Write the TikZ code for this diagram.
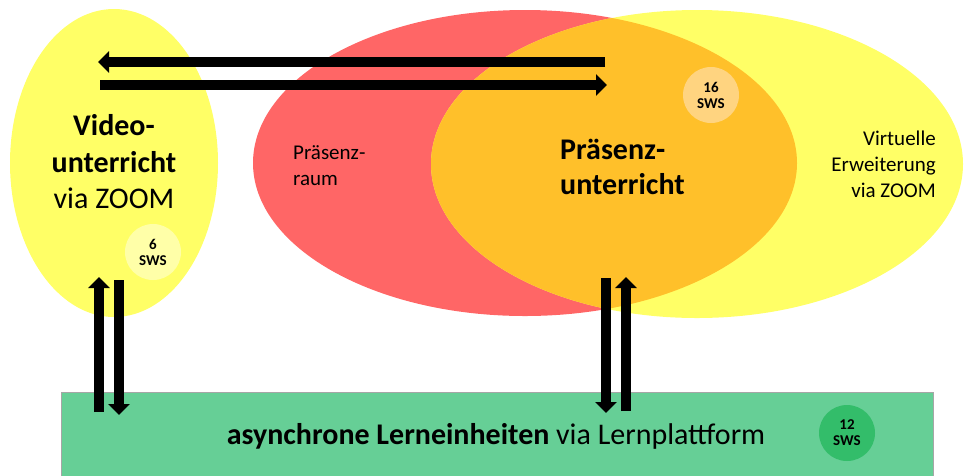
\documentclass[tikz,border=0pt]{standalone}
\usepackage{fontspec}
\setmainfont{Carlito}
\usetikzlibrary{arrows.meta,shapes.geometric}
\definecolor{cred}{HTML}{FF6666}
\definecolor{cyel}{HTML}{FFFF66}
\definecolor{corange}{HTML}{FFC02A}
\definecolor{clorange}{HTML}{FFD480}
\definecolor{clyel}{HTML}{FFFFA8}
\definecolor{cgreen}{HTML}{66CF96}
\definecolor{cdgreen}{HTML}{33BD6A}
\tikzset{
  blob/.style={ellipse,inner sep=0pt,draw=none},
  swsbadge/.style={circle,minimum size=56pt,inner sep=0pt,font=\fontsize{15}{19}\selectfont\bfseries,align=center},
  fatarrow/.style={line width=10pt,-{Triangle[width=21pt,length=11pt]}},
  label21/.style={inner sep=0pt,font=\fontsize{21}{26}\selectfont},
  label30/.style={inner sep=0pt,font=\fontsize{30}{36.5}\selectfont},
}
\begin{document}
\begin{tikzpicture}[x=1pt,y=-1pt]
\useasboundingbox (0,0) rectangle (966,475);
% ellipses
\node[blob,fill=cyel,minimum width=208pt,minimum height=308pt] (video) at (114,163) {};
\node[blob,fill=cred,minimum width=544pt,minimum height=306pt] (raum) at (525,163) {};
\node[blob,fill=cyel,minimum width=532pt,minimum height=308pt] (virt) at (697,164) {};
\begin{scope}
  \clip (525,163) ellipse [x radius=272pt, y radius=153pt];
  \fill[corange] (697,164) ellipse [x radius=266pt, y radius=154pt];
\end{scope}
% badges
\node[swsbadge,fill=clorange] (b16) at (711,95) {16\\[-3pt]SWS};
\node[swsbadge,fill=clyel] (b6) at (153,252) {6\\[-3pt]SWS};
% texts
\node[label30,align=center] (tvideo) at (114,162) {\textbf{Video-}\\\textbf{unterricht}\\via ZOOM};
\node[label21,align=left,anchor=west] (traum) at (293,166) {Präsenz-\\raum};
\node[label30,align=left,anchor=west,font=\fontsize{30}{35}\selectfont\bfseries] (tpraes) at (560,167) {Präsenz-\\unterricht};
\node[label21,align=right,anchor=east] (tvirt) at (936,164) {Virtuelle\\Erweiterung\\via ZOOM};
% green bar
\node[draw=gray!70,line width=0.6pt,fill=cgreen,anchor=north west,minimum width=872pt,minimum height=100pt,inner sep=0pt] (lern) at (61,392) {};
\node[inner sep=0pt,font=\fontsize{30}{34}\selectfont,anchor=base] (tlern) at (496,444) {\textbf{asynchrone Lerneinheiten} via Lernplattform};
\node[swsbadge,fill=cdgreen] (b12) at (847,433) {12\\[-3pt]SWS};
% arrow coordinates
\coordinate (a1s) at (605,62);  \coordinate (a1e) at (98,62);
\coordinate (a2s) at (100,85);  \coordinate (a2e) at (607,85);
\coordinate (a3s) at (99,412);  \coordinate (a3e) at (99,277);
\coordinate (a4s) at (119,280); \coordinate (a4e) at (119,415);
\coordinate (a5s) at (606,278); \coordinate (a5e) at (606,413);
\coordinate (a6s) at (626,411); \coordinate (a6e) at (626,277);
\draw[fatarrow] (a1s) -- (a1e);
\draw[fatarrow] (a2s) -- (a2e);
\draw[fatarrow] (a3s) -- (a3e);
\draw[fatarrow] (a4s) -- (a4e);
\draw[fatarrow] (a5s) -- (a5e);
\draw[fatarrow] (a6s) -- (a6e);
\end{tikzpicture}
\end{document}
